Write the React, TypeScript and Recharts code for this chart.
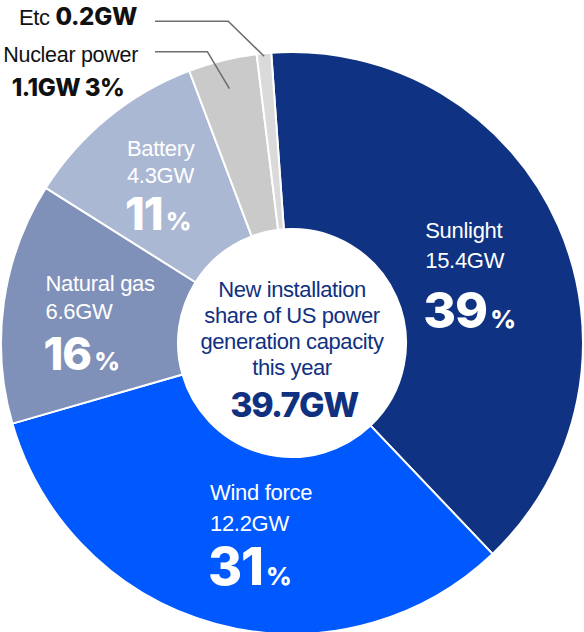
import React from "react";
import { PieChart, Pie, Cell } from "recharts";

const sources = ["Sunlight", "Wind force", "Natural gas", "Battery", "Nuclear power", "Etc"];
const capacityGW = [15.4, 12.2, 6.6, 4.3, 1.1, 0.2];
const sharePct = [39, 31, 16, 11, 3, 0];
// size of each arc as it is drawn (share of the full circle, %)
const arcShare = [39.0, 32.6, 13.4, 10.3, 3.8, 0.8];
const colors = ["#0f3282", "#0058ff", "#7f91b9", "#abb8d4", "#cacaca", "#dadada"];

const totalGW = "39.7GW";
const centerLines = ["New installation", "share of US power", "generation capacity", "this year"];

const SANS = "'Liberation Sans', Arial, sans-serif";
const NUM = "Inter, Lato, sans-serif";
const NAVY = "#10317f";
const RAD = Math.PI / 180;

// label block layout: [dx, dy, gap to GW line, gap to big %, big font size]
const inside = [
  [-52, -23, 30, 90, 50],
  [-29, -38, 31, 85, 52],
  [-46, -24, 28, 79, 45],
  [-37, -30, 27, 74, 45],
];

const data = sources.map((name, i) => ({
  name,
  arc: arcShare[i],
  gw: capacityGW[i],
  pct: sharePct[i],
  color: colors[i],
}));

const renderLabel = (props: any) => {
  const { cx, cy, midAngle, innerRadius, outerRadius, index } = props;
  const item = data[index];
  const cos = Math.cos(-midAngle * RAD);
  const sin = Math.sin(-midAngle * RAD);

  if (index < 4) {
    const [dx, dy, g1, g2, big] = inside[index];
    const r = (innerRadius + outerRadius) / 2;
    const x = cx + r * cos + dx;
    const y = cy + r * sin + dy;
    return (
      <g key={`lbl-${index}`}>
        <text x={x} y={y} fill="#fff" fontSize={22} fontFamily={SANS} letterSpacing={-0.3}>
          {item.name}
        </text>
        <text x={x} y={y + g1} fill="#fff" fontSize={22} fontFamily={SANS} letterSpacing={-0.3}>
          {item.gw}GW
        </text>
        <text x={x - 2} y={y + g2} fill="#fff" fontSize={big} fontWeight={800} fontFamily={NUM} letterSpacing={-1}>
          {item.pct}
          <tspan fontSize={25} dx={3}>%</tspan>
        </text>
      </g>
    );
  }

  // outside labels with leader lines
  const r = index === 4 ? outerRadius * 0.9 : outerRadius * 0.99;
  const sx = cx + r * cos;
  const sy = cy + r * sin;
  const ex = index === 4 ? sx - 22 : sx - 36;
  const ey = index === 4 ? sy - 37 : sy - 35;
  const hx = 155;
  return (
    <g key={`lbl-${index}`}>
      <polyline
        points={`${sx},${sy} ${ex},${ey} ${hx},${ey}`}
        fill="none"
        stroke="#6e6e6e"
        strokeWidth={1.6}
      />
      {index === 5 ? (
        <text x={hx - 18} y={ey + 4} textAnchor="end" fill="#111" fontSize={22} fontFamily={SANS} letterSpacing={-0.4}>
          {item.name}{" "}
          <tspan fontFamily={NUM} fontWeight={800} fontSize={24} letterSpacing={-0.3}>{item.gw}GW</tspan>
        </text>
      ) : (
        <g>
          <text x={hx - 17} y={ey + 10} textAnchor="end" fill="#111" fontSize={21.5} fontFamily={SANS} letterSpacing={-0.3}>
            {item.name}
          </text>
          <text x={hx - 87} y={ey + 44} textAnchor="middle" fill="#111" fontSize={24} fontWeight={800} fontFamily={NUM} letterSpacing={-0.5}>
            {item.gw}GW {item.pct}%
          </text>
        </g>
      )}
    </g>
  );
};

export default function App() {
  return (
    <div style={{ position: "absolute", left: 0, top: 0, width: 584, height: 632, background: "#fff" }}>
      <PieChart width={584} height={632} margin={{ top: 0, right: 0, bottom: 0, left: 0 }}>
        <Pie
          data={data}
          dataKey="arc"
          cx={292}
          cy={343}
          innerRadius={114}
          outerRadius={291}
          startAngle={94.1}
          endAngle={-265.9}
          stroke="#fff"
          strokeWidth={2}
          label={renderLabel}
          labelLine={false}
          isAnimationActive={false}
        >
          {data.map((d, i) => (
            <Cell key={`cell-${i}`} fill={d.color} />
          ))}
        </Pie>
      </PieChart>
      <svg
        width={584}
        height={632}
        style={{ position: "absolute", left: 0, top: 0, pointerEvents: "none" }}
      >
        {centerLines.map((line, i) => (
          <text
            key={i}
            x={292}
            y={297 + i * 26}
            textAnchor="middle"
            fill={NAVY}
            fontSize={22}
            fontFamily={SANS}
            letterSpacing={-0.4}
          >
            {line}
          </text>
        ))}
        <text x={294} y={417} textAnchor="middle" fill={NAVY} fontSize={34} fontWeight={800} fontFamily={NUM} letterSpacing={-1.5}>
          {totalGW}
        </text>
      </svg>
    </div>
  );
}
